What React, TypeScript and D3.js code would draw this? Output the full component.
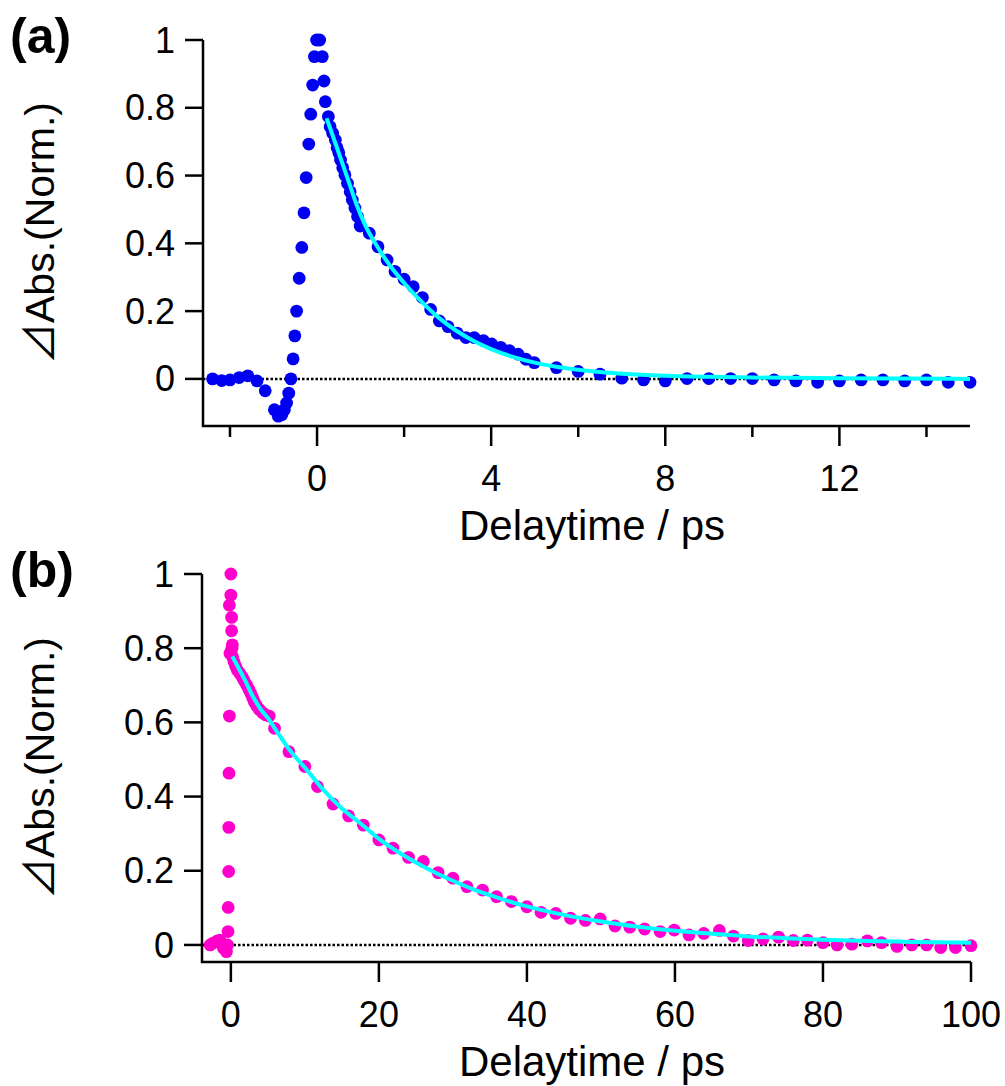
import React from "react";
import * as d3 from "d3";

// ---------- Panel (a) data ----------
const tA = [-2.4, -2.19, -2.0, -1.79, -1.59, -1.38, -1.19, -0.98, -0.89, -0.81, -0.75, -0.7, -0.65, -0.6, -0.55, -0.51, -0.47, -0.41, -0.35, -0.3, -0.25, -0.19, -0.145, -0.1, -0.06, -0.01, 0.06, 0.12, 0.16, 0.19, 0.26, 0.3, 0.36, 0.42, 0.46, 0.5, 0.54, 0.59, 0.64, 0.7, 0.76, 0.81, 0.87, 0.93, 0.99, 1.2, 1.4, 1.61, 1.79, 2.0, 2.21, 2.42, 2.61, 2.81, 3.01, 3.22, 3.42, 3.61, 3.82, 4.01, 4.22, 4.42, 4.62, 4.8, 4.99, 5.5, 6.0, 6.5, 7.0, 7.5, 8.0, 8.5, 9.0, 9.5, 10.0, 10.5, 11.0, 11.5, 12.0, 12.5, 13.0, 13.5, 14.0, 14.5, 15.0];
const vA = [0, -0.005, -0.003, 0.004, 0.009, -0.006, -0.035, -0.091, -0.11, -0.106, -0.091, -0.071, -0.042, 0.0, 0.059, 0.127, 0.2, 0.297, 0.388, 0.49, 0.594, 0.693, 0.781, 0.867, 0.951, 1.0, 1.0, 0.951, 0.879, 0.818, 0.774, 0.744, 0.725, 0.705, 0.682, 0.667, 0.646, 0.623, 0.602, 0.577, 0.552, 0.528, 0.504, 0.479, 0.451, 0.43, 0.39, 0.351, 0.317, 0.294, 0.272, 0.24, 0.205, 0.171, 0.154, 0.135, 0.122, 0.122, 0.113, 0.103, 0.093, 0.083, 0.073, 0.058, 0.048, 0.033, 0.022, 0.014, 0.002, -0.003, -0.006, 0.001, 0.001, 0.001, 0.001, -0.003, -0.006, -0.01, -0.006, -0.003, -0.003, -0.006, -0.003, -0.01, -0.01];
const tFitA = [0.22, 0.45, 0.7, 0.9, 1.1, 1.4, 1.7, 2.0, 2.4, 2.8, 3.2, 3.6, 4.0, 4.5, 5.0, 5.5, 6.0, 6.5, 7.0, 8.0, 9.0, 10.0, 12.0, 15.0];
const vFitA = [0.769, 0.685, 0.592, 0.517, 0.455, 0.387, 0.33, 0.283, 0.228, 0.18, 0.142, 0.112, 0.088, 0.065, 0.048, 0.036, 0.027, 0.02, 0.015, 0.009, 0.006, 0.004, 0.002, 0.0];

// ---------- Panel (b) data ----------
const tB = [-2.8, -2.4, -1.9, -1.5, -1.0, -0.6, -0.45, -0.38, -0.36, -0.3, -0.28, -0.25, -0.2, -0.12, -0.2, 0.0, 0.0, 0.1, 0.1, 0.2, 0.15, 0.23, 0.41, 0.63, 0.86, 1.22, 1.53, 1.8, 2.12, 2.43, 2.7, 2.93, 3.15, 3.47, 3.83, 4.28, 4.73, 5.18, 5.9, 7.84, 10.0, 11.7, 13.8, 15.9, 17.9, 20.0, 21.9, 24.0, 26.0, 28.0, 30.0, 31.9, 34.0, 35.9, 37.9, 40.0, 41.9, 43.9, 45.9, 47.9, 49.9, 51.9, 53.9, 55.9, 58.0, 59.9, 61.9, 63.9, 66.0, 67.9, 69.9, 71.9, 74.0, 76.0, 77.9, 80.0, 81.9, 83.9, 86.0, 87.9, 90.0, 92.0, 94.0, 95.9, 97.9, 100.0];
const vB = [0.0, 0.005, 0.01, 0.013, -0.009, -0.018, 0.0, 0.036, 0.101, 0.198, 0.317, 0.463, 0.617, 0.786, 0.916, 0.943, 1.0, 0.883, 0.847, 0.809, 0.8, 0.777, 0.764, 0.752, 0.741, 0.732, 0.722, 0.712, 0.701, 0.689, 0.678, 0.667, 0.656, 0.645, 0.635, 0.626, 0.62, 0.617, 0.584, 0.521, 0.481, 0.427, 0.38, 0.348, 0.323, 0.283, 0.261, 0.236, 0.225, 0.195, 0.18, 0.157, 0.148, 0.13, 0.117, 0.103, 0.088, 0.085, 0.072, 0.066, 0.07, 0.051, 0.048, 0.043, 0.036, 0.04, 0.027, 0.031, 0.039, 0.024, 0.012, 0.016, 0.021, 0.012, 0.013, 0.006, 0.0, 0.002, 0.011, 0.006, -0.004, 0.0, 0.0, -0.007, -0.007, -0.002];
const tFitB = [0.2, 1, 2, 3, 4, 5, 6, 8, 10, 12.5, 15, 17.5, 20, 22.5, 25, 27.5, 30, 32.5, 35, 37.5, 40, 45, 50, 55, 60, 65, 70, 75, 80, 85, 90, 95, 100];
const vFitB = [0.778, 0.748, 0.71, 0.669, 0.636, 0.612, 0.582, 0.524, 0.478, 0.418, 0.368, 0.328, 0.286, 0.252, 0.222, 0.196, 0.173, 0.152, 0.134, 0.118, 0.104, 0.081, 0.063, 0.049, 0.038, 0.03, 0.023, 0.018, 0.014, 0.011, 0.009, 0.007, 0.006];

// ---------- Ticks ----------
const yTicks = [0, 0.2, 0.4, 0.6, 0.8, 1];
const xMajorA = [0, 4, 8, 12];
const xMinorA = [-2, 2, 6, 10, 14];
const xMajorB = [0, 20, 40, 60, 80, 100];
const xMinorB: number[] = [];

const FONT = "'Liberation Sans', Arial, Helvetica, sans-serif";

type PanelProps = {
  label: string;
  t: number[];
  v: number[];
  tf: number[];
  vf: number[];
  xDomain: [number, number];
  yDomain: [number, number];
  xRange: [number, number];
  yRange: [number, number];
  xMajor: number[];
  xMinor: number[];
  color: string;
};

function Panel(p: PanelProps) {
  const x = d3.scaleLinear().domain(p.xDomain).range(p.xRange);
  const y = d3.scaleLinear().domain(p.yDomain).range(p.yRange);
  const [x0, x1] = p.xRange;
  const [yb, yt] = p.yRange;
  const pts = p.t.map((t, i) => [t, p.v[i]] as [number, number]);
  const fit = p.tf.map((t, i) => [t, p.vf[i]] as [number, number]);
  const line = d3
    .line<[number, number]>()
    .x((d) => x(d[0]))
    .y((d) => y(d[1]))
    .curve(d3.curveMonotoneX);
  const axisW = 2.5;
  return (
    <g>
      <text x={10} y={yt + 13} fontFamily={FONT} fontWeight="bold" fontSize={50}>
        {p.label}
      </text>
      {/* zero dotted line */}
      <line x1={x0} x2={x1} y1={y(0)} y2={y(0)} stroke="#000" strokeWidth={2.5} strokeDasharray="2.5 2" />
      {/* points */}
      {pts.map((d, i) => (
        <circle key={i} cx={x(d[0])} cy={y(d[1])} r={6.4} fill={p.color} />
      ))}
      {/* fit */}
      <path d={line(fit) || ""} fill="none" stroke="#00ffff" strokeWidth={4} />
      {/* axes */}
      <path d={`M${x0},${yt}V${yb}H${x1}`} fill="none" stroke="#000" strokeWidth={axisW} />
      {yTicks.map((tv) => (
        <g key={"y" + tv}>
          <line x1={x0 - 18} x2={x0} y1={y(tv)} y2={y(tv)} stroke="#000" strokeWidth={2.5} />
          <text x={x0 - 28} y={y(tv)} dy="0.35em" textAnchor="end" fontFamily={FONT} fontSize={36}>
            {String(tv)}
          </text>
        </g>
      ))}
      {p.xMajor.map((tv) => (
        <g key={"x" + tv}>
          <line x1={x(tv)} x2={x(tv)} y1={yb} y2={yb + 20} stroke="#000" strokeWidth={2.5} />
          <text x={x(tv)} y={yb + 52} dy="0.35em" textAnchor="middle" fontFamily={FONT} fontSize={36}>
            {String(tv)}
          </text>
        </g>
      ))}
      {p.xMinor.map((tv) => (
        <line key={"m" + tv} x1={x(tv)} x2={x(tv)} y1={yb} y2={yb + 11} stroke="#000" strokeWidth={2.5} />
      ))}
      <text x={592} y={yb + 99} dy="0.35em" textAnchor="middle" fontFamily={FONT} fontSize={42}>
        Delaytime / ps
      </text>
      <text
        transform={`translate(40,${(yt + yb) / 2}) rotate(-90)`}
        dy="0.35em"
        textAnchor="middle"
        fontFamily={FONT}
        fontSize={41}
      >
        <tspan fontFamily="'Noto Sans CJK JP', 'DejaVu Sans', sans-serif">⊿</tspan>Abs.(Norm.)
      </text>
    </g>
  );
}

export default function App() {
  return (
    <svg
      width={1005}
      height={1086}
      style={{ position: "absolute", left: 0, top: 0, background: "#fff" }}
    >
      <rect width={1005} height={1086} fill="#fff" />
      <Panel
        label="(a)"
        t={tA}
        v={vA}
        tf={tFitA}
        vf={vFitA}
        xDomain={[-2.62, 15]}
        yDomain={[-0.139, 1]}
        xRange={[203, 970]}
        yRange={[426, 40]}
        xMajor={xMajorA}
        xMinor={xMinorA}
        color="#0000f0"
      />
      <Panel
        label="(b)"
        t={tB}
        v={vB}
        tf={tFitB}
        vf={vFitB}
        xDomain={[-3.9, 100]}
        yDomain={[-0.046, 1]}
        xRange={[202, 971]}
        yRange={[962, 574]}
        xMajor={xMajorB}
        xMinor={xMinorB}
        color="#ff00cc"
      />
    </svg>
  );
}
